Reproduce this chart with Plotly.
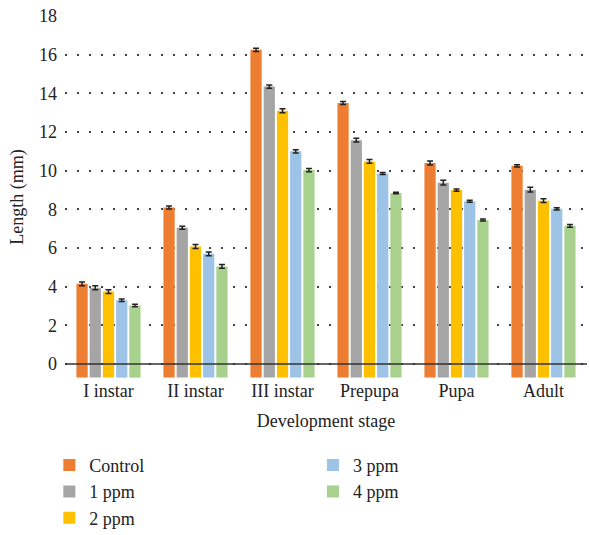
import plotly.graph_objects as go

categories = ["I instar", "II instar", "III instar", "Prepupa", "Pupa", "Adult"]
series_names = ["Control", "1 ppm", "2 ppm", "3 ppm", "4 ppm"]
control = [4.15, 8.1, 16.25, 13.5, 10.4, 10.25]
ppm1 = [3.95, 7.05, 14.35, 11.58, 9.38, 9.02]
ppm2 = [3.75, 6.08, 13.1, 10.48, 9.0, 8.45]
ppm3 = [3.3, 5.7, 11.0, 9.86, 8.42, 8.03]
ppm4 = [3.03, 5.05, 10.03, 8.85, 7.45, 7.15]
errors_control = [0.1, 0.08, 0.08, 0.08, 0.1, 0.06]
errors_1 = [0.1, 0.08, 0.08, 0.1, 0.12, 0.12]
errors_2 = [0.1, 0.1, 0.1, 0.1, 0.06, 0.1]
errors_3 = [0.07, 0.1, 0.08, 0.05, 0.05, 0.06]
errors_4 = [0.06, 0.1, 0.08, 0.04, 0.05, 0.07]
y_ticks = [0, 2, 4, 6, 8, 10, 12, 14, 16, 18]

values = [control, ppm1, ppm2, ppm3, ppm4]
errors = [errors_control, errors_1, errors_2, errors_3, errors_4]
colors = ["#ED7D31", "#A5A5A5", "#FFC000", "#9DC3E6", "#A9D18E"]
legends = ["legend", "legend", "legend", "legend2", "legend2"]
BASE = -0.7

fig = go.Figure()
for name, vals, errs, col, lg in zip(series_names, values, errors, colors, legends):
    fig.add_trace(go.Bar(
        x=categories, y=[v - BASE for v in vals], base=BASE, name=name,
        marker=dict(color=col, line=dict(width=0)),
        error_y=dict(type="data", array=errs, color="#222222", thickness=1.5, width=3),
        legend=lg,
    ))

ff = "Liberation Serif"
fs = 18
fig.update_layout(
    width=589, height=535,
    margin=dict(l=65, r=2, t=16, b=157, autoexpand=False),
    paper_bgcolor="white", plot_bgcolor="white",
    font=dict(family=ff, size=fs, color="#222222"),
    barmode="group", bargap=0.24, bargroupgap=0.15,
    showlegend=True,
    legend=dict(x=-0.03, y=-0.19, xanchor="left", yanchor="top", orientation="v",
                font=dict(family=ff, size=fs), tracegroupgap=0, itemclick=False),
    legend2=dict(x=0.475, y=-0.19, xanchor="left", yanchor="top", orientation="v",
                 font=dict(family=ff, size=fs), tracegroupgap=0, itemclick=False),
    xaxis=dict(showgrid=False, showline=False, ticks="", tickfont=dict(family=ff, size=fs),
               automargin=False,
               title=dict(text="Development stage", font=dict(family=ff, size=fs), standoff=14)),
    yaxis=dict(range=[-0.72, 18], tickvals=y_ticks, showgrid=True, gridcolor="#444444",
               griddash="1.5px,10.5px", gridwidth=1.5, zeroline=False, showline=False,
               tickfont=dict(family=ff, size=fs), ticks="", automargin=False,
               ticklabelstandoff=7,
               title=dict(text="Length (mm)", font=dict(family=ff, size=fs), standoff=10)),
    shapes=[dict(type="line", xref="paper", x0=0, x1=1, yref="y", y0=0, y1=0,
                 line=dict(color="#333333", width=1.5), layer="above")],
)

fig.write_html("out.html", config={"displayModeBar": False},
               post_script="document.body.style.margin='0';")
